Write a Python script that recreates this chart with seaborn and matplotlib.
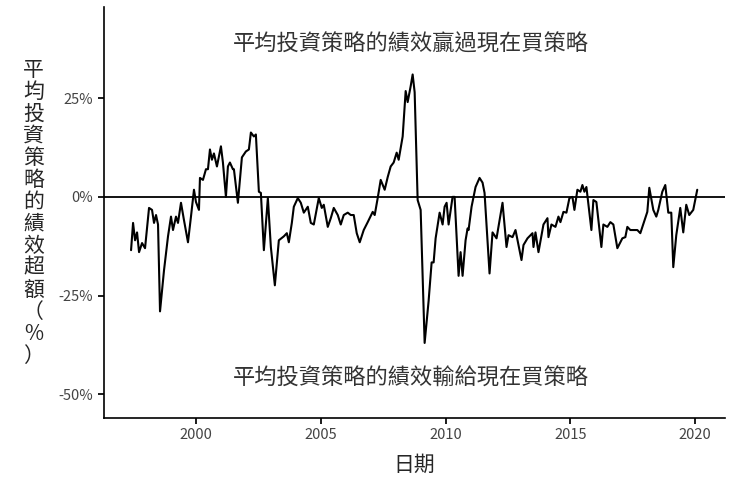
import seaborn as sns
import matplotlib.pyplot as plt
import pandas as pd
from matplotlib.ticker import FuncFormatter

sns.set_theme(style="ticks")
plt.rcParams['font.family'] = ['Noto Sans CJK TC', 'DejaVu Sans']

# 平均投資策略相對現在買策略的績效超額（%），讀自圖
years = [
    1997.40, 1997.48, 1997.56, 1997.64, 1997.72, 1997.84, 1997.96, 1998.12, 1998.24, 1998.32,
    1998.40, 1998.48, 1998.56, 1998.72, 1998.88, 1999.00, 1999.08, 1999.20, 1999.28, 1999.40,
    1999.52, 1999.68, 1999.80, 1999.92, 2000.00, 2000.12, 2000.16, 2000.28, 2000.40, 2000.48,
    2000.56, 2000.64, 2000.72, 2000.84, 2001.00, 2001.08, 2001.20, 2001.28, 2001.36, 2001.48,
    2001.52, 2001.68, 2001.84, 2002.00, 2002.12, 2002.20, 2002.32, 2002.40, 2002.52, 2002.60,
    2002.72, 2002.88, 2003.00, 2003.16, 2003.32, 2003.52, 2003.64, 2003.72, 2003.84, 2003.92,
    2004.08, 2004.20, 2004.32, 2004.48, 2004.60, 2004.72, 2004.92, 2005.04, 2005.12, 2005.28,
    2005.40, 2005.52, 2005.68, 2005.80, 2005.92, 2006.08, 2006.20, 2006.32, 2006.44, 2006.56,
    2006.72, 2006.88, 2007.08, 2007.16, 2007.28, 2007.40, 2007.56, 2007.68, 2007.80, 2007.92,
    2008.04, 2008.12, 2008.28, 2008.40, 2008.48, 2008.60, 2008.68, 2008.76, 2008.88, 2009.00,
    2009.16, 2009.32, 2009.44, 2009.52, 2009.60, 2009.76, 2009.88, 2009.96, 2010.04, 2010.12,
    2010.28, 2010.36, 2010.52, 2010.60, 2010.68, 2010.80, 2010.88, 2010.92, 2011.04, 2011.20,
    2011.36, 2011.48, 2011.56, 2011.76, 2011.88, 2012.04, 2012.28, 2012.44, 2012.52, 2012.68,
    2012.80, 2013.04, 2013.12, 2013.28, 2013.48, 2013.52, 2013.60, 2013.72, 2013.92, 2014.08,
    2014.12, 2014.24, 2014.40, 2014.52, 2014.60, 2014.72, 2014.84, 2014.96, 2015.08, 2015.16,
    2015.28, 2015.40, 2015.48, 2015.56, 2015.64, 2015.84, 2015.92, 2016.04, 2016.24, 2016.32,
    2016.48, 2016.60, 2016.72, 2016.88, 2017.08, 2017.20, 2017.28, 2017.40, 2017.68, 2017.80,
    2018.00, 2018.08, 2018.16, 2018.32, 2018.44, 2018.52, 2018.68, 2018.80, 2018.92, 2019.04,
    2019.12, 2019.24, 2019.40, 2019.52, 2019.64, 2019.76, 2019.92, 2020.08,
]
excess = [
    -13.5, -6.6, -11.0, -9.0, -14.0, -11.7, -13.0, -2.8, -3.3, -6.6,
    -4.6, -7.0, -29.0, -18.6, -10.0, -5.0, -8.4, -5.0, -6.6, -1.5,
    -5.9, -11.5, -5.0, 1.8, -1.3, -3.3, 4.8, 4.3, 7.0, 7.0,
    12.0, 9.4, 11.0, 7.7, 12.8, 8.7, 0.0, 7.7, 8.7, 7.0,
    7.0, -1.5, 10.0, 11.5, 12.0, 16.3, 15.3, 15.8, 1.3, 1.0,
    -13.5, -0.3, -12.7, -22.4, -11.0, -10.0, -9.2, -11.5, -6.6, -2.5,
    -0.3, -1.5, -4.0, -2.5, -6.6, -7.0, -0.3, -2.8, -2.0, -7.6,
    -5.4, -2.8, -4.6, -7.0, -4.6, -4.0, -4.6, -4.6, -9.2, -11.5,
    -8.4, -6.4, -3.8, -4.6, -0.3, 4.3, 1.8, 5.0, 7.7, 8.7,
    11.2, 9.4, 15.3, 26.8, 24.0, 28.0, 31.0, 26.5, -0.8, -3.3,
    -37.0, -26.3, -16.6, -16.6, -10.5, -4.0, -7.0, -2.5, -1.5, -7.0,
    0.0, 0.0, -20.0, -14.0, -20.0, -11.0, -8.0, -8.4, -2.5, 2.5,
    4.8, 3.6, 1.0, -19.4, -9.0, -10.5, -1.5, -12.7, -9.7, -10.2,
    -8.4, -16.0, -12.2, -10.5, -9.2, -12.7, -9.0, -14.0, -7.0, -5.4,
    -10.2, -7.0, -7.6, -5.0, -6.4, -3.8, -4.0, -0.3, 0.0, -3.3,
    1.8, 1.3, 3.0, 1.3, 2.5, -8.4, -0.8, -1.3, -12.7, -7.0,
    -7.6, -6.4, -7.0, -13.0, -10.5, -10.2, -7.6, -8.4, -8.4, -9.2,
    -5.4, -3.8, 2.3, -3.3, -5.0, -3.3, 1.3, 3.0, -4.0, -4.0,
    -17.8, -9.7, -2.8, -9.0, -2.0, -4.6, -3.3, 1.8,
]

df = pd.DataFrame({"日期": years, "超額": excess})

fig, ax = plt.subplots(figsize=(7.4, 4.9), dpi=100)
fig.subplots_adjust(left=0.14, right=0.98, top=0.985, bottom=0.147)

ax.axhline(0, color="black", linewidth=1.3)
sns.lineplot(data=df, x="日期", y="超額", color="black", linewidth=1.5, ax=ax)

ax.set_xlim(1996.3, 2021.2)
ax.set_ylim(-56, 48)
ax.set_xticks([2000, 2005, 2010, 2015, 2020])
ax.set_yticks([-50, -25, 0, 25])
ax.yaxis.set_major_formatter(FuncFormatter(lambda v, p: f"{int(v)}%"))
ax.tick_params(labelsize=10.5, colors="#444444", length=4)
ax.tick_params(axis="both", color="black")
sns.despine(ax=ax)
for s in ["left", "bottom"]:
    ax.spines[s].set_linewidth(1.2)
    ax.spines[s].set_color("black")

ax.set_xlabel("日期", fontsize=15, labelpad=8)
ax.set_ylabel("\n".join("平均投資策略的績效超額（%）"), fontsize=15,
              rotation=0, va="center", labelpad=18, linespacing=1.0)

ax.text(2008.6, 38.8, "平均投資策略的績效贏過現在買策略", fontsize=16,
        ha="center", va="center", color="#333333")
ax.text(2008.6, -46, "平均投資策略的績效輸給現在買策略", fontsize=16,
        ha="center", va="center", color="#333333")

fig.savefig("out.png", dpi=100)
